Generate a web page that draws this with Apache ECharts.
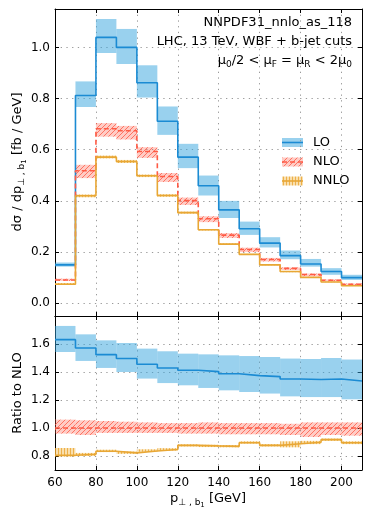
<!DOCTYPE html>
<html><head><meta charset="utf-8">
<script src="https://cdn.jsdelivr.net/npm/echarts@6/dist/echarts.min.js"></script>
<style>html,body{margin:0;padding:0;background:#fff}#c{width:372px;height:517px}</style>
</head><body><div id="c"></div>
<script>
// ---- data ----
const binEdges = [60,70,80,90,100,110,120,130,140,150,160,170,180,190,200,210];
const xTicks = [60,80,100,120,140,160,180,200];
const lo     = [0.150,0.812,1.039,1.000,0.862,0.711,0.571,0.459,0.365,0.291,0.235,0.186,0.153,0.124,0.100];
const loHi   = [0.159,0.867,1.111,1.072,0.930,0.769,0.623,0.499,0.400,0.319,0.258,0.206,0.173,0.137,0.111];
const loLo   = [0.143,0.767,0.978,0.935,0.804,0.658,0.528,0.421,0.333,0.267,0.218,0.172,0.143,0.111,0.091];
const nlo    = [0.091,0.518,0.682,0.674,0.593,0.495,0.401,0.330,0.266,0.210,0.171,0.136,0.112,0.090,0.074];
const nloHi  = [0.096,0.541,0.704,0.693,0.610,0.509,0.413,0.340,0.274,0.217,0.177,0.140,0.116,0.093,0.077];
const nloLo  = [0.087,0.489,0.651,0.640,0.568,0.474,0.384,0.317,0.255,0.200,0.163,0.130,0.105,0.085,0.070];
const nnlo   = [0.074,0.420,0.571,0.554,0.498,0.421,0.354,0.287,0.231,0.191,0.150,0.124,0.101,0.083,0.068];
const nnloHi = [0.079,0.425,0.577,0.560,0.503,0.426,0.358,0.290,0.234,0.193,0.152,0.126,0.102,0.084,0.069];
const nnloLo = [0.073,0.414,0.566,0.548,0.493,0.416,0.350,0.284,0.228,0.189,0.148,0.121,0.100,0.082,0.067];
// ratio to NLO
const rLo     = [1.631,1.571,1.524,1.496,1.455,1.429,1.412,1.403,1.388,1.374,1.367,1.350,1.346,1.350,1.336];
const rLoHi   = [1.729,1.669,1.626,1.607,1.567,1.548,1.531,1.526,1.519,1.514,1.507,1.496,1.493,1.500,1.489];
const rLoLo   = [1.543,1.479,1.429,1.400,1.353,1.321,1.305,1.286,1.269,1.257,1.246,1.226,1.221,1.221,1.205];
const rNlo    = [1.000,1.000,1.000,1.000,1.000,1.000,1.000,1.000,1.000,1.000,1.000,1.000,1.000,1.000,1.000];
const rNloHi  = [1.060,1.055,1.050,1.045,1.040,1.035,1.035,1.040,1.035,1.035,1.035,1.030,1.040,1.040,1.040];
const rNloLo  = [0.960,0.950,0.965,0.965,0.965,0.965,0.960,0.960,0.955,0.955,0.955,0.950,0.936,0.950,0.945];
const rNnlo   = [0.805,0.812,0.834,0.822,0.836,0.846,0.876,0.872,0.869,0.895,0.876,0.888,0.898,0.917,0.895];
const rNnloHi = [0.857,0.822,0.845,0.832,0.848,0.856,0.884,0.880,0.878,0.905,0.885,0.905,0.908,0.925,0.905];
const rNnloLo = [0.795,0.800,0.828,0.815,0.830,0.838,0.868,0.864,0.862,0.888,0.868,0.862,0.885,0.908,0.885];
const yTicksTop = [0.0,0.2,0.4,0.6,0.8,1.0];
const yTicksRatio = [0.8,1.0,1.2,1.4,1.6];

// ---- styles ----
const FONT = 'DejaVu Sans';
const C_LO = '#1b8bd3', C_NLO = '#ff5b45', C_NNLO = '#e8a735';
function hatchDiag(bg, line, s) {
  const c = document.createElement('canvas'); c.width = s; c.height = s;
  const g = c.getContext('2d');
  g.fillStyle = bg; g.fillRect(0,0,s,s);
  g.strokeStyle = line; g.lineWidth = 1;
  g.beginPath();
  for (let k=-1;k<=1;k++){ g.moveTo(k*s, s); g.lineTo(k*s+s, 0); }
  g.stroke();
  return {image: c, repeat: 'repeat'};
}
function hatchVert(bg, line, s) {
  const c = document.createElement('canvas'); c.width = s; c.height = s;
  const g = c.getContext('2d');
  g.fillStyle = bg; g.fillRect(0,0,s,s);
  g.fillStyle = line; g.fillRect(1,0,1,s);
  return {image: c, repeat: 'repeat'};
}
const FILL_LO = 'rgba(51,163,222,0.5)';
const FILL_NLO = hatchDiag('rgba(255,100,80,0.33)', 'rgba(255,85,65,0.75)', 5);
const FILL_NNLO = hatchVert('rgba(240,175,50,0.40)', 'rgba(232,160,40,0.75)', 3);

function band(xi, yi, lows, highs, fill, z) {
  return {
    type: 'custom', xAxisIndex: xi, yAxisIndex: yi, clip: true, z: z, silent: true,
    data: lows.map((v,i)=>[binEdges[i], binEdges[i+1], v, highs[i]]),
    encode: {x:[0,1], y:[2,3]},
    renderItem: (params, api) => {
      const a = api.coord([api.value(0), api.value(3)]);
      const b = api.coord([api.value(1), api.value(2)]);
      return {type:'rect', shape:{x:a[0], y:a[1], width:b[0]-a[0], height:b[1]-a[1]}, style:{fill: fill}};
    }
  };
}
function step(xi, yi, vals, color, type, z) {
  const d = vals.map((v,i)=>[binEdges[i], v]);
  d.push([binEdges[vals.length], vals[vals.length-1]]);
  return {type:'line', xAxisIndex: xi, yAxisIndex: yi, step:'end', data:d, symbol:'none',
    lineStyle:{color:color, width:1.6, type:type}, z:z, silent:true, clip:true, animation:false};
}
const gridLine = {show:true, lineStyle:{color:'#9a9a9a', width:1, type:[1.3,4.4]}};
const axLine = {show:true, onZero:false, lineStyle:{color:'#000', width:1}};
const tick = {show:true, inside:true, length:4, lineStyle:{color:'#000', width:1}};
const lab = {color:'#000', fontSize:12, fontFamily:FONT};
function xAx(grid, pos, labels, split) {
  return {type:'value', gridIndex:grid, position:pos, min:60, max:210, interval:20,
    axisLine:axLine, axisTick:tick, splitLine: split ? gridLine : {show:false},
    axisLabel: labels ? Object.assign({show:true, margin:7, showMaxLabel:false, formatter: v => xTicks.includes(v) ? String(v) : ''}, lab) : {show:false}};
}
function yAx(grid, pos, min, max, labels, split, ticks) {
  return {type:'value', gridIndex:grid, position:pos, min:min, max:max, minInterval:0.2, maxInterval:0.2, splitNumber:5,
    axisLine:axLine, axisTick:tick, splitLine: split ? gridLine : {show:false},
    axisLabel: labels ? Object.assign({show:true, margin:5, showMinLabel:false, showMaxLabel:false,
      formatter: v => ticks.some(t=>Math.abs(t-v)<1e-6) ? v.toFixed(1) : ''}, lab) : {show:false}};
}

const subS = {fontSize:9, fontFamily:FONT, fill:'#000', padding:[7,0,0,0]};
const subSS = {fontSize:7, fontFamily:FONT, fill:'#000', padding:[13,0,0,0]};
const mainS = {fontSize:13, fontFamily:FONT, fill:'#000'};

const option = {
  animation:false,
  backgroundColor:'#fff',
  grid:[{left:55, right:10, top:9, height:307}, {left:55, right:10, top:316, height:154}],
  xAxis:[xAx(0,'bottom',false,true), xAx(0,'top',false,false), xAx(1,'bottom',true,true), xAx(1,'top',false,false)],
  yAxis:[yAx(0,'left',-0.05,1.15,true,true,yTicksTop), yAx(0,'right',-0.05,1.15,false,false),
         yAx(1,'left',0.7,1.8,true,true,yTicksRatio), yAx(1,'right',0.7,1.8,false,false)],
  series:[
    band(0,0,loLo,loHi,FILL_LO,2),
    band(0,0,nloLo,nloHi,FILL_NLO,2),
    band(0,0,nnloLo,nnloHi,FILL_NNLO,2),
    step(0,0,lo,C_LO,'solid',3),
    step(0,0,nlo,C_NLO,[5,3],3),
    step(0,0,nnlo,C_NNLO,'solid',3),
    band(2,2,rLoLo,rLoHi,FILL_LO,2),
    band(2,2,rNloLo,rNloHi,FILL_NLO,2),
    band(2,2,rNnloLo,rNnloHi,FILL_NNLO,2),
    step(2,2,rLo,C_LO,'solid',3),
    step(2,2,rNlo,C_NLO,[5,3],3),
    step(2,2,rNnlo,C_NNLO,'solid',3)
  ],
  graphic:[
    {type:'text', x:352, y:23, z:10, style:{text:'NNPDF31_nnlo_as_118', align:'right', verticalAlign:'middle', fontSize:13, fontFamily:FONT, fill:'#000'}},
    {type:'text', x:352, y:42, z:10, style:{text:'LHC, 13 TeV, WBF + b-jet cuts', align:'right', verticalAlign:'middle', fontSize:13, fontFamily:FONT, fill:'#000'}},
    {type:'text', x:352, y:61, z:10, style:{text:'{m|μ}{s|0}{m|/2 < μ}{s|F}{m| = μ}{s|R}{m| < 2μ}{s|0}', align:'right', verticalAlign:'middle', fontSize:13, fontFamily:FONT, fill:'#000',
      rich:{m:mainS, s:subS}}},
    // legend
    {type:'rect', shape:{x:282, y:138, width:21, height:9}, style:{fill:FILL_LO}},
    {type:'line', shape:{x1:282, y1:142.5, x2:303, y2:142.5}, style:{stroke:C_LO, lineWidth:1.6}},
    {type:'rect', shape:{x:282, y:157.5, width:21, height:9}, style:{fill:FILL_NLO}},
    {type:'line', shape:{x1:282, y1:162, x2:303, y2:162}, style:{stroke:C_NLO, lineWidth:1.6, lineDash:[5,3]}},
    {type:'rect', shape:{x:282, y:176.5, width:21, height:9}, style:{fill:FILL_NNLO}},
    {type:'line', shape:{x1:282, y1:181, x2:303, y2:181}, style:{stroke:C_NNLO, lineWidth:1.6}},
    {type:'text', x:313, y:143, style:{text:'LO', verticalAlign:'middle', fontSize:13, fontFamily:FONT, fill:'#000'}},
    {type:'text', x:313, y:162, style:{text:'NLO', verticalAlign:'middle', fontSize:13, fontFamily:FONT, fill:'#000'}},
    {type:'text', x:313, y:181, style:{text:'NNLO', verticalAlign:'middle', fontSize:13, fontFamily:FONT, fill:'#000'}},
    // axis titles
    {type:'text', x:18, y:162, rotation:Math.PI/2, style:{text:'{m|dσ / dp}{s|⊥ , b}{ss|1}{m| [fb / GeV]}', align:'center', verticalAlign:'middle', rich:{m:mainS, s:subS, ss:subSS}}},
    {type:'text', x:18, y:393, rotation:Math.PI/2, style:{text:'Ratio to NLO', align:'center', verticalAlign:'middle', fontSize:13, fontFamily:FONT, fill:'#000'}},
    {type:'text', x:208, y:499, style:{text:'{m|p}{s|⊥ , b}{ss|1}{m| [GeV]}', align:'center', verticalAlign:'middle', rich:{m:mainS, s:subS, ss:subSS}}}
  ]
};
const chart = echarts.init(document.getElementById('c'), null, {renderer:'canvas'});
chart.setOption(option);
</script></body></html>
